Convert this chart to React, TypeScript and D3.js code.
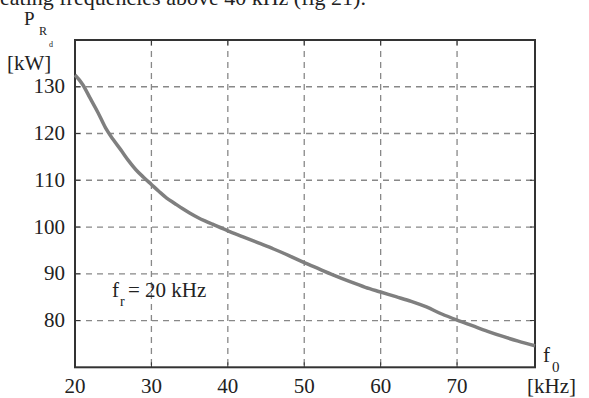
import React from "react";
import * as d3 from "d3";

const freqs = [20, 21, 22, 23, 24, 25, 26, 27, 28, 29, 30, 31, 32, 33, 34, 35, 36, 37, 38, 40, 42, 44, 46, 48, 50, 52, 54, 56, 58, 60, 62, 64, 66, 68, 70, 72, 74, 76, 78, 80.2];
const power = [132.5, 130.5, 127.5, 124.5, 121.2, 118.7, 116.5, 114.2, 112.2, 110.6, 109.1, 107.6, 106.2, 105.1, 104, 103, 102.1, 101.3, 100.6, 99.2, 97.9, 96.6, 95.3, 93.9, 92.4, 91, 89.6, 88.3, 87.1, 86.1, 85.1, 84.1, 82.9, 81.4, 80.1, 78.9, 77.7, 76.6, 75.6, 74.6];
const xTicks = [20, 30, 40, 50, 60, 70];
const yTicks = [80, 90, 100, 110, 120, 130];

const W = 589, H = 398;
const left = 75, right = 535, top = 40, bottom = 367.3;
const font = "Liberation Serif, Times New Roman, serif";

export default function App() {
  const x = d3.scaleLinear().domain([20, 80.2]).range([left, right]);
  const y = d3.scaleLinear().domain([70, 140]).range([bottom, top]);
  const line = d3.line<number>().x((_, i) => x(freqs[i])).y((d) => y(d)).curve(d3.curveMonotoneX);
  const gridColor = "#888";
  const axisColor = "#333";
  const ts = { fontFamily: font };
  return (
    <svg width={W} height={H} style={{ position: "absolute", left: 0, top: 0, background: "#fff" }}>
      <text x={0} y={5} fontSize={22} fill="#222" style={ts}>eating frequencies above 40 kHz (fig 21).</text>
      {xTicks.slice(1).map((t) => (
        <line key={"gx" + t} x1={x(t)} x2={x(t)} y1={top} y2={bottom} stroke={gridColor} strokeWidth={1.3} strokeDasharray="6,5" />
      ))}
      {yTicks.map((t) => (
        <line key={"gy" + t} x1={left} x2={right} y1={y(t)} y2={y(t)} stroke={gridColor} strokeWidth={1.3} strokeDasharray="6,5" />
      ))}
      {xTicks.slice(1).map((t) => (
        <g key={"tx" + t}>
          <line x1={x(t)} x2={x(t)} y1={bottom} y2={bottom - 5} stroke={axisColor} strokeWidth={1} />
          <line x1={x(t)} x2={x(t)} y1={top} y2={top + 5} stroke={axisColor} strokeWidth={1} />
        </g>
      ))}
      {yTicks.map((t) => (
        <g key={"ty" + t}>
          <line x1={left} x2={left + 5} y1={y(t)} y2={y(t)} stroke={axisColor} strokeWidth={1} />
          <line x1={right} x2={right - 5} y1={y(t)} y2={y(t)} stroke={axisColor} strokeWidth={1} />
        </g>
      ))}
      <rect x={left} y={top} width={right - left} height={bottom - top} fill="none" stroke={axisColor} strokeWidth={2} />
      <path d={line(power) || ""} fill="none" stroke="#7f7f7f" strokeWidth={3.5} strokeLinejoin="round" />
      {xTicks.map((t) => (
        <text key={"lx" + t} x={x(t)} y={393} fontSize={21} textAnchor="middle" fill="#222" style={ts}>{t}</text>
      ))}
      {yTicks.map((t) => (
        <text key={"ly" + t} x={65} y={y(t) + 6.5} fontSize={21} textAnchor="end" fill="#222" style={ts}>{t}</text>
      ))}
      <text x={24} y={25} fontSize={19} fill="#222" style={ts}>P</text>
      <text x={39} y={35} fontSize={12} fill="#222" style={ts}>R</text>
      <text x={49} y={47} fontSize={8} fill="#222" style={ts}>d</text>
      <text x={7} y={70} fontSize={21} fill="#222" style={ts}>[kW]</text>
      <text x={543} y={362} fontSize={21} fill="#222" style={ts}>f</text>
      <text x={552} y={372} fontSize={15} fill="#222" style={ts}>0</text>
      <text x={527} y={393} fontSize={21} fill="#222" style={ts}>[kHz]</text>
      <text x={112} y={297} fontSize={21} fill="#222" style={ts}>f</text>
      <text x={120} y={306} fontSize={14} fill="#222" style={ts}>r</text>
      <text x={128} y={297} fontSize={21} fill="#222" style={ts}>= 20 kHz</text>
    </svg>
  );
}
